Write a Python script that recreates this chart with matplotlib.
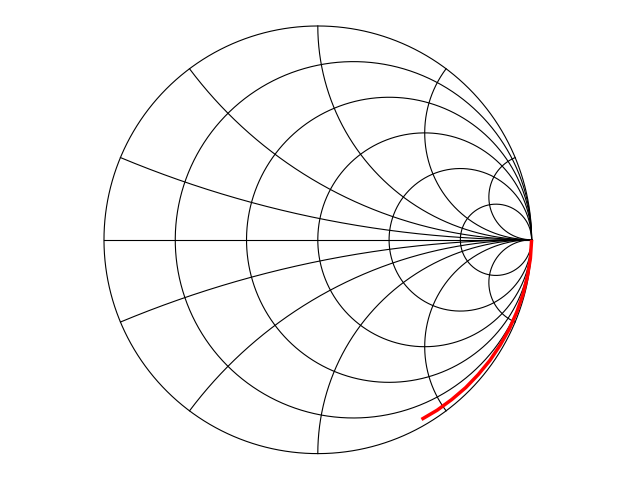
import numpy as np
import matplotlib
matplotlib.use("Agg")
import matplotlib.pyplot as plt

# Smith chart grid values
resistance_values = [0.2, 0.5, 1.0, 2.0, 5.0]
reactance_values = [0.2, 0.5, 1.0, 2.0, 5.0, -0.2, -0.5, -1.0, -2.0, -5.0]

# Red trace: reflection coefficient (angle in degrees, magnitude)
trace_angle_deg = [0, -5, -10, -15, -20, -25, -30, -35, -40, -45, -50, -55, -60]
trace_magnitude = [1.000, 0.998, 0.995, 0.993, 0.990, 0.988, 0.985,
                   0.983, 0.980, 0.978, 0.975, 0.973, 0.970]

fig = plt.figure(figsize=(6.4, 4.8), dpi=100)
ax = fig.add_axes([0.12906, 0.01042, 0.735, 0.98])
ax.set_xlim(-1.1, 1.1)
ax.set_ylim(-1.1, 1.1)
ax.axis('off')

grid_kw = dict(color='black', lw=0.8, zorder=1)

# outer circle (r = 0)
t = np.linspace(0, 2 * np.pi, 1000)
ax.plot(np.cos(t), np.sin(t), **grid_kw)

# real axis
ax.plot([-1, 1], [0, 0], **grid_kw)

# constant resistance circles
for r in resistance_values:
    c = r / (1 + r)
    rad = 1 / (1 + r)
    ax.plot(c + rad * np.cos(t), rad * np.sin(t), **grid_kw)

# constant reactance arcs
rr = np.tan(np.linspace(0, np.pi / 2, 2000)[:-1])
for x in reactance_values:
    z = rr + 1j * x
    g = (z - 1) / (z + 1)
    g = np.append(g, 1 + 0j)
    ax.plot(g.real, g.imag, **grid_kw)

# red trace
ang = np.deg2rad(np.array(trace_angle_deg))
mag = np.array(trace_magnitude)
ax.plot(mag * np.cos(ang), mag * np.sin(ang), color='red', lw=2.5, zorder=3,
        solid_capstyle='butt')

fig.savefig('out.png', dpi=100)
